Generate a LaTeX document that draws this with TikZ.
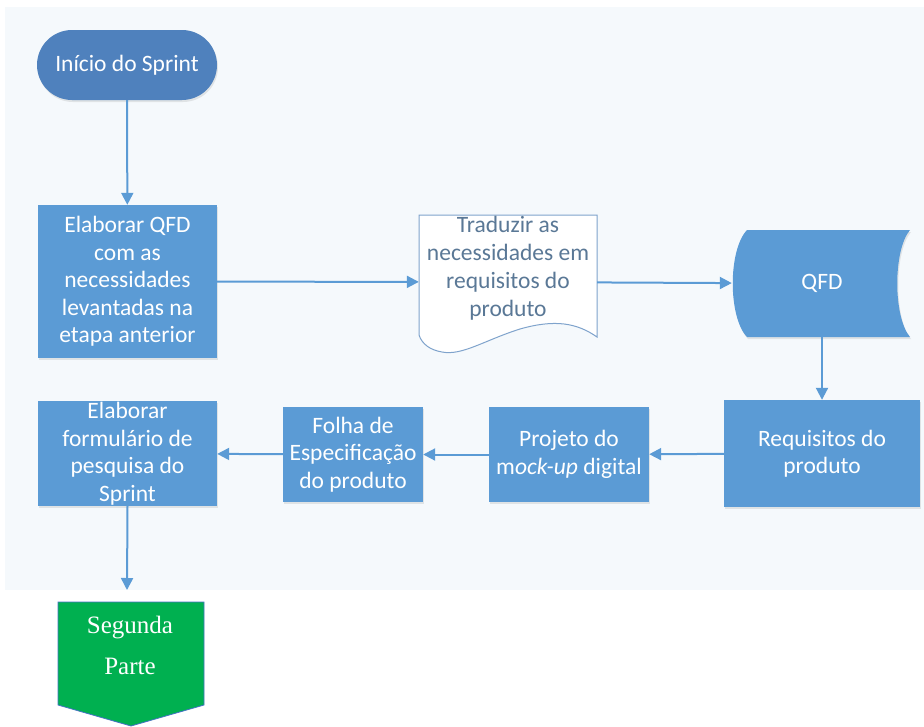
\documentclass[tikz,border=0pt]{standalone}
\usepackage{fontspec}
\setmainfont{Carlito}
\newfontfamily\partfont{Liberation Serif}
\usetikzlibrary{arrows.meta,shadows}

\definecolor{panel}{HTML}{F5F9FC}
\definecolor{boxblue}{HTML}{5B9BD5}
\definecolor{startblue}{HTML}{4F81BD}
\definecolor{docline}{HTML}{7FA3CC}
\definecolor{doctext}{HTML}{5A7896}
\definecolor{partgreen}{HTML}{00B050}
\definecolor{partline}{HTML}{4472C4}

\tikzset{
  box/.style={fill=boxblue, text=white, align=center, inner sep=0pt,
    font=\fontsize{23.5}{27.5}\selectfont,
    drop shadow={opacity=0.18, shadow xshift=1pt, shadow yshift=-2pt}},
  startbox/.style={box, fill=startblue, rounded corners=35pt},
  label/.style={align=center, inner sep=0pt, font=\fontsize{23.5}{28}\selectfont},
  anchorbox/.style={inner sep=0pt},
  flow/.style={draw=boxblue, line width=2pt, -{Triangle[length=12pt,width=12pt]}},
}

\begin{document}
\begin{tikzpicture}[x=1pt,y=-1pt]
  % canvas and light panel
  \fill[white] (0,0) rectangle (924,726);
  \useasboundingbox (0,0) rectangle (924,726);
  \fill[panel] (5,7) rectangle (924,590);

  % start terminal
  \node[startbox, minimum width=180pt, minimum height=70pt] (start) at (127,65) {Início do Sprint};

  % first process
  \node[box, minimum width=179pt, minimum height=153pt] (plan) at (127.5,281.5)
    {Elaborar QFD\\com as\\necessidades\\levantadas na\\etapa anterior};

  % document with a wavy base
  \draw[docline, line width=1pt, fill=white]
    (419,215) -- (597,215) -- (597,337)
    .. controls (577,323) and (555,319) .. (520,329)
    .. controls (485,340) and (462,356) .. (442,352)
    .. controls (430,350) and (422,344) .. (419,335) -- cycle;
  \node[anchorbox, minimum width=178pt, minimum height=135pt] (doc) at (508,282) {};
  \node[label, text=doctext] (doctext) at (508,268)
    {Traduzir as\\necessidades em\\requisitos do\\produto};

  % stored data
  \fill[boxblue, drop shadow={opacity=0.18, shadow xshift=1pt, shadow yshift=-2pt}]
    (747,230) -- (910,230)
    .. controls (893,250) and (893,317) .. (910,337)
    -- (747,337)
    .. controls (728,317) and (728,250) .. (747,230) -- cycle;
  \node[anchorbox, minimum width=178pt, minimum height=107pt] (qfd) at (821,283.5) {};
  \node[label, text=white] at (822,283) {QFD};

  % lower row
  \node[box, minimum width=196pt, minimum height=107pt] (req) at (822,453.5)
    {Requisitos do\\produto};
  \node[box, minimum width=160pt, minimum height=95pt] (mock) at (569,454.5)
    {Projeto do\\m\textit{ock-up} digital};
  \node[box, minimum width=140pt, minimum height=95pt] (spec) at (353,454.5)
    {Folha de\\Especificação\\do produto};
  \node[box, minimum width=179pt, minimum height=105pt] (form) at (127.5,453.5)
    {Elaborar\\formulário de\\pesquisa do\\Sprint};

  % off-page connector
  \draw[partline, line width=0.8pt, fill=partgreen]
    (58,602) -- (204,602) -- (204,705) -- (131,726) -- (58,705) -- cycle;
  \node[anchorbox, minimum width=146pt, minimum height=124pt] (part) at (131,664) {};
  \node[align=center, inner sep=0pt, text=white, font=\partfont\fontsize{25}{41}\selectfont]
    at (130,645) {Segunda\\Parte};

  \coordinate (exit) at (127,590);

  % connectors
  \draw[flow] (start) -- (plan);
  \draw[flow] (plan) -- (doc);
  \draw[flow] (doc) -- (qfd);
  \draw[flow] (qfd.south -| req) -- (req);
  \draw[flow] (req) -- (mock);
  \draw[flow] (mock) -- (spec);
  \draw[flow] (spec) -- (form);
  \draw[flow] (form.south) -- (exit);
\end{tikzpicture}
\end{document}
